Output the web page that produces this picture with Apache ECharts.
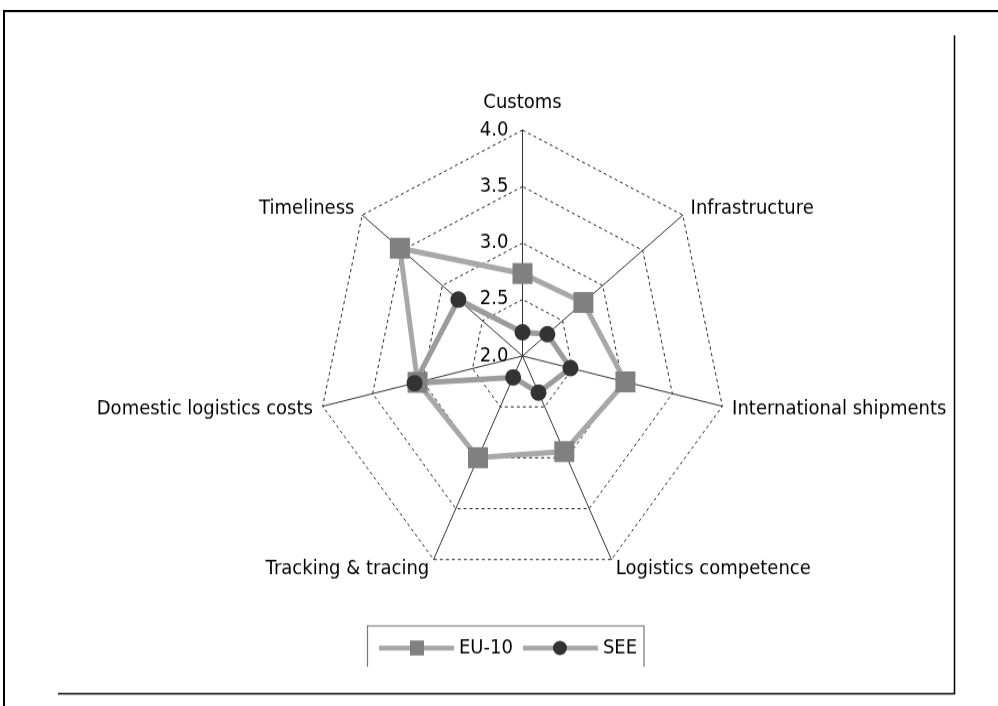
<!DOCTYPE html>
<html>
<head>
<meta charset="utf-8">
<title>EU-10 vs SEE logistics radar</title>
<script src="https://cdn.jsdelivr.net/npm/echarts@6/dist/echarts.min.js"></script>
<style>
  html, body { margin: 0; padding: 0; background: #fff; width: 998px; height: 706px; overflow: hidden; }
  /* the original picture is stretched vertically, so the chart is too */
  #chart { width: 998px; height: 641px; transform: scaleY(1.102); transform-origin: 0 0; }
</style>
</head>
<body>
<div id="chart"></div>
<script>
// 指标（顺时针，从顶部开始）
const indicators = ['Customs', 'Infrastructure', 'International shipments', 'Logistics competence',
  'Tracking & tracing', 'Domestic logistics costs', 'Timeliness']
// 两组数据
const eu10 = [2.73, 2.76, 3.03, 2.94, 3.00, 3.05, 3.53]
const see = [2.21, 2.31, 2.48, 2.36, 2.21, 3.08, 2.80]
const seriesNames = ['EU-10', 'SEE']
// 刻度
const scaleMin = 2.0
const scaleMax = 4.0
const scaleStep = 0.5

const font = 'DejaVu Sans'
const fontSize = 18

// echarts puts radar indicators counter-clockwise, the source goes clockwise
function clockwise(arr) {
  return [arr[0]].concat(arr.slice(1).reverse())
}

// legend icons: light grey line with the marker on it
function legendIcon(marker) {
  let svg = "<svg xmlns='http://www.w3.org/2000/svg' width='75' height='17'>" +
    "<rect x='0' y='6.3' width='75' height='4.5' fill='#a8a8a8'/>" + marker + "</svg>"
  return 'image://data:image/svg+xml;charset=utf-8,' + encodeURIComponent(svg)
}

const myChart = echarts.init(document.getElementById('chart'), null, {renderer: 'canvas'})

myChart.setOption({
  animation: false,
  legend: {
    data: [
      {name: seriesNames[0], icon: legendIcon("<rect x='31' y='1.7' width='14' height='13.6' fill='#808080'/>")},
      {name: seriesNames[1], icon: legendIcon("<ellipse cx='37' cy='8.5' rx='7' ry='6.4' fill='#333'/>")}
    ],
    left: 374,
    top: 574,
    itemWidth: 75,
    itemHeight: 17,
    itemGap: 10,
    textStyle: {color: '#000', fontFamily: font, fontSize: fontSize}
  },
  radar: {
    center: [522.5, 323],
    radius: 205,
    startAngle: 90,
    splitNumber: 4,
    shape: 'polygon',
    nameGap: 10,
    indicator: clockwise(indicators).map(function (n) {
      return {name: n, min: scaleMin, max: scaleMax}
    }),
    axisName: {
      color: '#000',
      fontFamily: font,
      fontSize: fontSize,
      formatter: function (name) {
        return name === indicators[0] ? '{top|' + name + '}' : name
      },
      rich: {
        top: {color: '#000', fontFamily: font, fontSize: fontSize, padding: [0, 0, 6, 0]}
      }
    },
    axisLine: {lineStyle: {color: '#333', width: 1}},
    splitLine: {lineStyle: {color: '#222', width: 1, type: [3, 3]}},
    splitArea: {show: false},
    axisTick: {show: false},
    axisLabel: {show: false}
  },
  // tick labels only on the Customs spoke
  polar: {center: [522.5, 323], radius: 205},
  angleAxis: {show: false, startAngle: 90, min: 0, max: 360},
  radiusAxis: {
    min: scaleMin,
    max: scaleMax,
    interval: scaleStep,
    axisLine: {show: false},
    axisTick: {show: false},
    splitLine: {show: false},
    axisLabel: {
      color: '#000',
      fontFamily: font,
      fontSize: fontSize,
      margin: 14,
      formatter: function (v) {
        return v.toFixed(1)
      }
    }
  },
  series: [
    {
      name: seriesNames[0],
      type: 'radar',
      symbol: 'rect',
      symbolSize: [20, 19],
      itemStyle: {color: '#808080'},
      lineStyle: {color: '#a8a8a8', width: 5},
      data: [{name: seriesNames[0], value: clockwise(eu10)}]
    },
    {
      name: seriesNames[1],
      type: 'radar',
      symbol: 'circle',
      symbolSize: [16, 15],
      itemStyle: {color: '#333'},
      lineStyle: {color: '#9c9c9c', width: 5},
      data: [{name: seriesNames[1], value: clockwise(see)}]
    }
  ],
  // frame lines of the source picture and the legend box
  graphic: [
    {type: 'line', shape: {x1: 3, y1: 10, x2: 998, y2: 10}, style: {stroke: '#000', lineWidth: 2}},
    {type: 'line', shape: {x1: 4, y1: 9, x2: 4, y2: 641}, style: {stroke: '#000', lineWidth: 2}},
    {type: 'line', shape: {x1: 954.5, y1: 32, x2: 954.5, y2: 630}, style: {stroke: '#000', lineWidth: 1.5}},
    {type: 'line', shape: {x1: 58, y1: 629.5, x2: 955, y2: 629.5}, style: {stroke: '#000', lineWidth: 1.5}},
    {type: 'polyline', shape: {points: [[367.5, 605], [367.5, 568], [644, 568], [644, 605]]},
      style: {stroke: '#777', lineWidth: 1.2, fill: null}}
  ]
})
</script>
</body>
</html>
